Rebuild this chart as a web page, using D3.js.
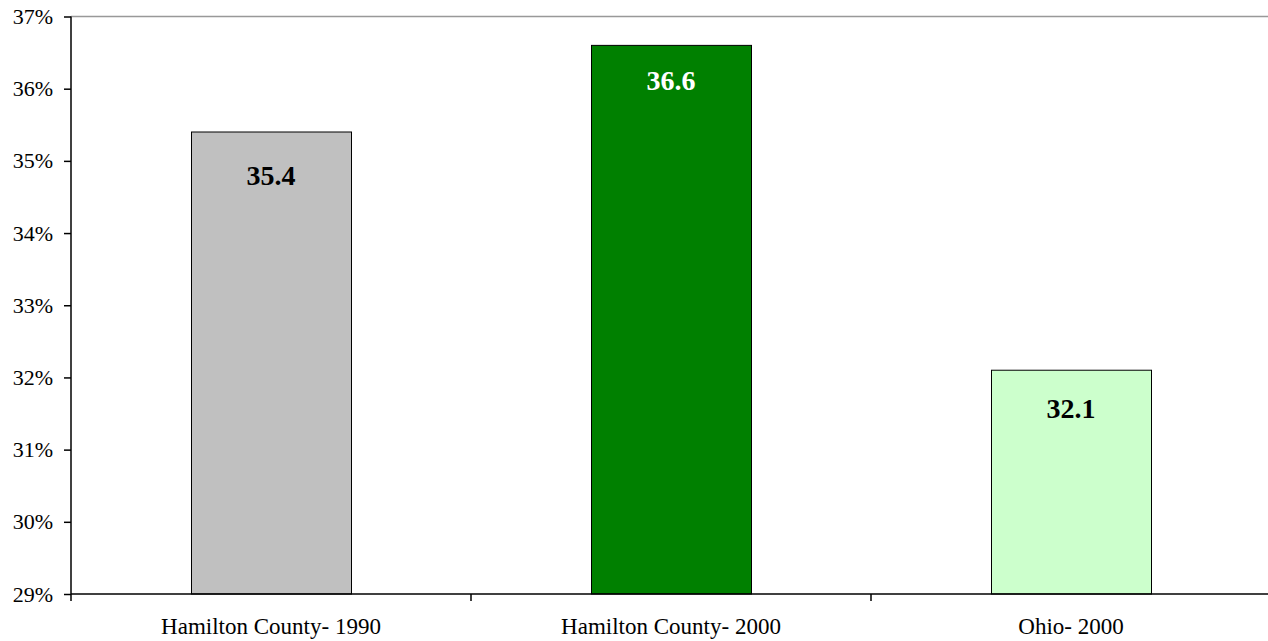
<!DOCTYPE html>
<html>
<head>
<meta charset="utf-8">
<script src="https://cdn.jsdelivr.net/npm/d3@7"></script>
<style>
  html, body { margin: 0; padding: 0; background: #fff; }
  svg { display: block; }
  svg text { font-family: "Liberation Serif", "Times New Roman", serif; }
</style>
</head>
<body>
<svg id="chart" width="1268" height="641"></svg>
<script>
// Share of population, by area and census year (percent)
const categories = ["Hamilton County- 1990", "Hamilton County- 2000", "Ohio- 2000"];
const values = [35.4, 36.6, 32.1];
const yTicks = [29, 30, 31, 32, 33, 34, 35, 36, 37];

// Presentation
const barFill = ["#c0c0c0", "#008000", "#ccffcc"];
const labelFill = ["#000", "#fff", "#000"];
const labelDrop = [53, 45, 48];

const svg = d3.select("#chart");
const m = { left: 71, right: 1271, top: 16.5, bottom: 594 };

const x = d3.scaleBand()
  .domain(categories)
  .range([m.left, m.right])
  .paddingInner(0.6)
  .paddingOuter(0.3);

const xEdges = d3.scaleBand().domain(categories).range([m.left, m.right]);

const y = d3.scaleLinear().domain([29, 37]).range([m.bottom, m.top]);

// plot frame (top edge)
svg.append("line")
  .attr("x1", m.left).attr("x2", 1268)
  .attr("y1", m.top).attr("y2", m.top)
  .attr("stroke", "#999").attr("stroke-width", 1.5);

// bars
svg.selectAll("rect.bar")
  .data(values)
  .join("rect")
  .attr("class", "bar")
  .attr("x", (d, i) => Math.round(x(categories[i])) + 0.5)
  .attr("y", d => y(d))
  .attr("width", Math.round(x.bandwidth()))
  .attr("height", d => y(29) - y(d))
  .attr("fill", (d, i) => barFill[i])
  .attr("stroke", "#000")
  .attr("stroke-width", 1);

// value labels
svg.selectAll("text.val")
  .data(values)
  .join("text")
  .attr("class", "val")
  .attr("x", (d, i) => x(categories[i]) + x.bandwidth() / 2)
  .attr("y", (d, i) => y(d) + labelDrop[i])
  .attr("text-anchor", "middle")
  .attr("font-weight", "bold")
  .attr("font-size", 28)
  .attr("fill", (d, i) => labelFill[i])
  .text(d => d.toFixed(1));

// y axis
const yAxis = svg.append("g")
  .attr("transform", `translate(${m.left},0)`)
  .call(d3.axisLeft(y).tickValues(yTicks).tickFormat(d => d + "%").tickSize(7).tickPadding(11));
yAxis.attr("font-family", null).attr("font-size", null);
yAxis.select(".domain").attr("stroke", "#000").attr("stroke-width", 1.5).attr("d", `M0,${m.top}V${m.bottom}`);
yAxis.selectAll(".tick line").attr("stroke", "#000").attr("stroke-width", 1.5);
yAxis.selectAll("text")
  .style("font-family", "'Liberation Serif', 'Times New Roman', serif")
  .style("font-size", "22px")
  .attr("fill", "#000");

// x axis: baseline, boundary ticks and category names
const xg = svg.append("g");
xg.append("line")
  .attr("x1", m.left).attr("x2", 1268)
  .attr("y1", m.bottom).attr("y2", m.bottom)
  .attr("stroke", "#000").attr("stroke-width", 1.5);
xg.selectAll("line.tk")
  .data(categories)
  .join("line")
  .attr("class", "tk")
  .attr("x1", d => xEdges(d)).attr("x2", d => xEdges(d))
  .attr("y1", m.bottom).attr("y2", m.bottom + 7)
  .attr("stroke", "#000").attr("stroke-width", 1.5);
xg.selectAll("text")
  .data(categories)
  .join("text")
  .attr("x", d => xEdges(d) + xEdges.bandwidth() / 2)
  .attr("y", 634)
  .attr("text-anchor", "middle")
  .attr("font-size", 23)
  .attr("fill", "#000")
  .text(d => d);
</script>
</body>
</html>
